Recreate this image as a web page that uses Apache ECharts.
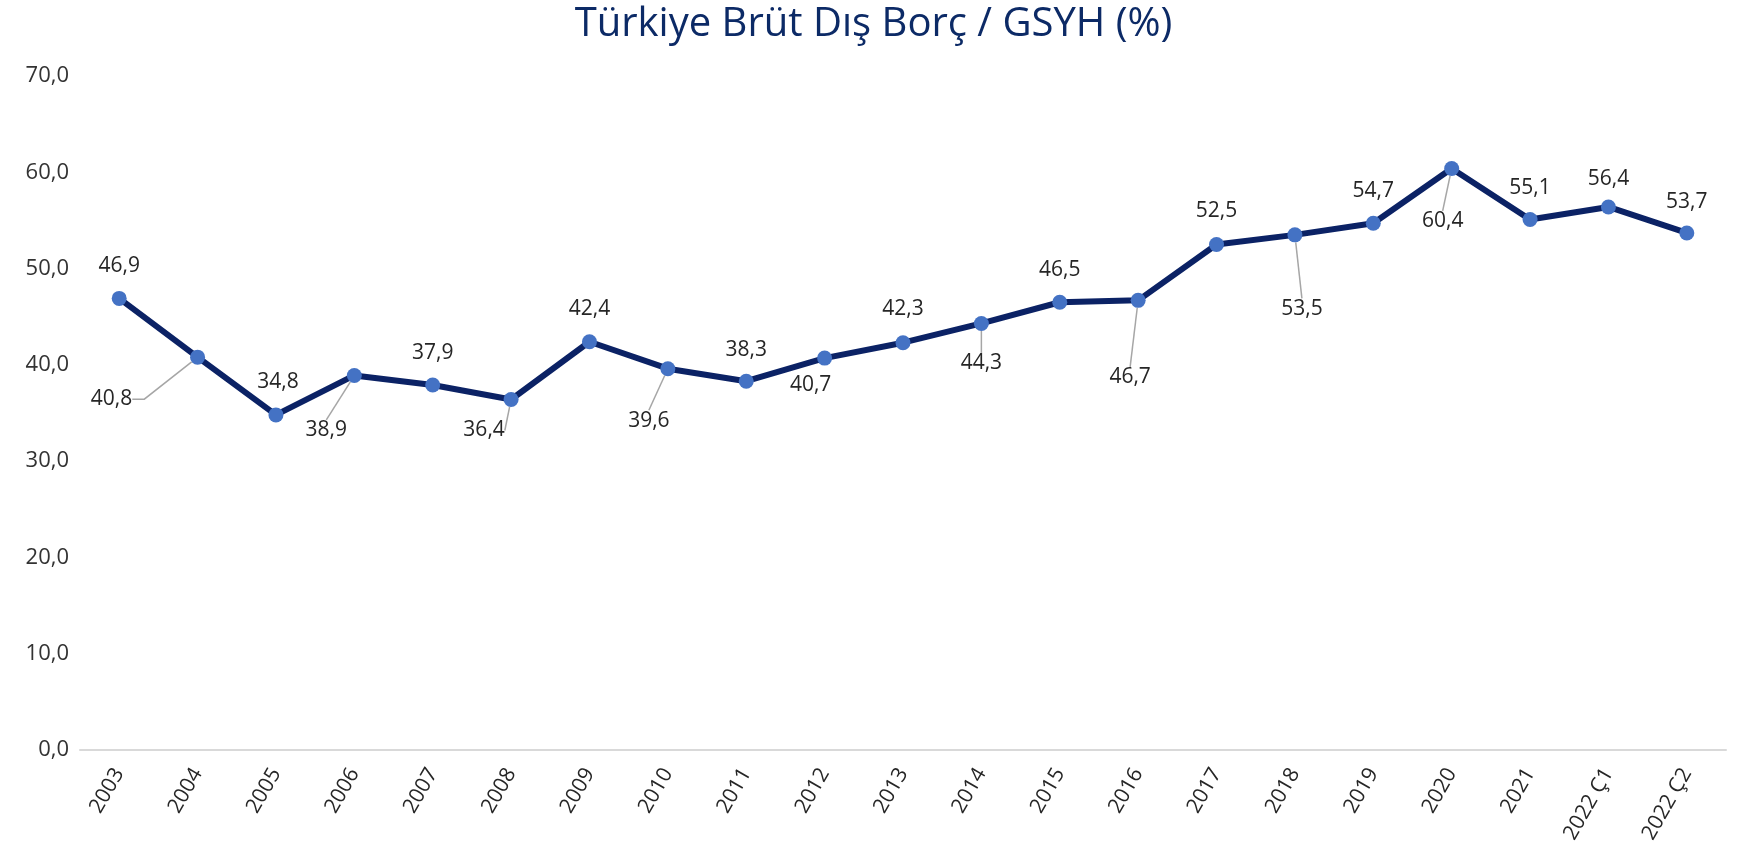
<!DOCTYPE html>
<html>
<head>
<meta charset="utf-8">
<script src="https://cdn.jsdelivr.net/npm/echarts@6/dist/echarts.min.js"></script>
<style>
  html, body { margin: 0; padding: 0; background: #ffffff; }
  #chart { width: 1747px; height: 846px; }
</style>
</head>
<body>
<div id="chart"></div>
<script>
// Türkiye gross external debt as a share of GDP (%)
const titleText = 'Türkiye Brüt Dış Borç / GSYH (%)';
const categories = ['2003', '2004', '2005', '2006', '2007', '2008', '2009', '2010', '2011', '2012',
  '2013', '2014', '2015', '2016', '2017', '2018', '2019', '2020', '2021', '2022 Ç1', '2022 Ç2'];
const debtToGdp = [46.9, 40.8, 34.8, 38.9, 37.9, 36.4, 42.4, 39.6, 38.3, 40.7,
  42.3, 44.3, 46.5, 46.7, 52.5, 53.5, 54.7, 60.4, 55.1, 56.4, 53.7];
const yTicks = { min: 0, max: 70, step: 10 };

// Label placement: centre of each value label relative to its point (px), and whether a guide line is drawn
const labelOffsets = [
  [0, -32], [-86, 42], [2, -33], [-28, 55], [0, -32], [-27, 31], [0, -33], [-19, 52], [0, -31], [-14, 27],
  [0, -34], [0, 40], [0, -32], [-8, 77], [0, -33], [7, 74], [0, -32], [-9, 53], [0, -31], [0, -28], [0, -31]
];
const guided = [false, true, false, true, false, true, false, true, false, false,
  false, true, false, true, false, true, false, true, false, false, false];

const fmt = v => v.toFixed(1).replace('.', ',');
const FONT = '"Open Sans", "Noto Sans", sans-serif';

const chart = echarts.init(document.getElementById('chart'));

chart.setOption({
  backgroundColor: '#ffffff',
  animation: false,
  title: {
    text: titleText,
    left: 'center',
    top: 0,
    textStyle: { fontFamily: FONT, fontSize: 40, fontWeight: 'normal', color: '#0c2a66' }
  },
  grid: { left: 80, right: 21, top: 76, bottom: 96, containLabel: false },
  xAxis: {
    type: 'category',
    data: categories,
    boundaryGap: true,
    axisLine: { show: true, lineStyle: { color: '#d9d9d9', width: 2 } },
    axisTick: { show: false },
    axisLabel: {
      rotate: 60,
      margin: 20,
      interval: 0,
      fontFamily: FONT,
      fontSize: 21,
      color: '#262626'
    }
  },
  yAxis: {
    type: 'value',
    min: yTicks.min,
    max: yTicks.max,
    interval: yTicks.step,
    splitLine: { show: false },
    axisLine: { show: false },
    axisTick: { show: false },
    axisLabel: {
      margin: 11,
      fontFamily: FONT,
      fontSize: 22,
      color: '#333333',
      formatter: v => fmt(v)
    }
  },
  series: [{
    type: 'line',
    data: debtToGdp.map((v, i) => ({
      value: v,
      labelLine: { show: guided[i], length2: i === 1 ? 12 : 0 }
    })),
    symbol: 'circle',
    symbolSize: 15,
    lineStyle: { color: '#0b2265', width: 6 },
    itemStyle: { color: '#4472c4', borderWidth: 0 },
    label: {
      show: true,
      position: 'top',
      fontFamily: FONT,
      fontSize: 21,
      color: '#262626',
      formatter: p => fmt(p.value)
    },
    labelLine: {
      show: false,
      length2: 0,
      lineStyle: { color: '#a6a6a6', width: 1.5 }
    },
    labelLayout: p => {
      const off = labelOffsets[p.dataIndex];
      const cx = p.rect.x + p.rect.width / 2 + off[0];
      const cy = p.rect.y + p.rect.height / 2 + off[1];
      return {
        dx: cx - (p.labelRect.x + p.labelRect.width / 2),
        dy: cy - (p.labelRect.y + p.labelRect.height / 2)
      };
    },
    z: 3
  }]
});
</script>
</body>
</html>
